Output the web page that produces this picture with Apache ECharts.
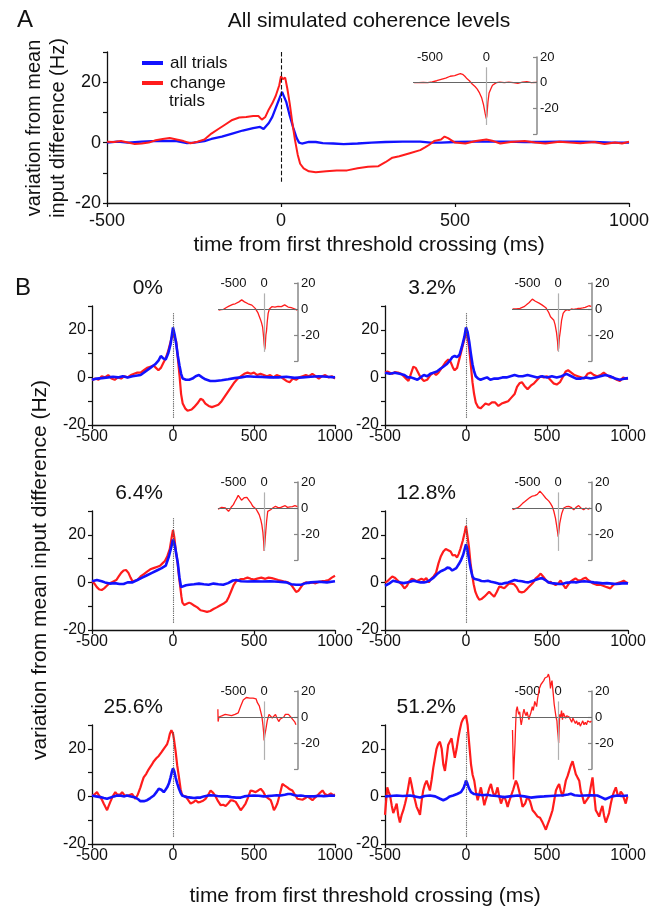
<!DOCTYPE html>
<html><head><meta charset="utf-8">
<script src="https://cdn.jsdelivr.net/npm/echarts@6/dist/echarts.min.js"></script>
<style>html,body{margin:0;padding:0;background:#fff}#c{width:657px;height:908px}</style>
</head><body><div id="c"></div>
<script>
const FONT = "'Liberation Sans', Arial, Helvetica, sans-serif";
const BLUE = '#1212ff', RED = '#ff1c1c';

// ---------- Panel A ----------
const A_all = [[-500,0],[-470,0.3],[-440,0],[-400,0.3],[-370,0.5],[-330,0.6],[-300,0.5],[-270,-0.2],[-250,0],[-220,0.5],[-200,1.2],[-170,2],[-140,3],[-110,4],[-80,4.8],[-60,5.2],[-50,4.5],[-45,4.6],[-35,6.5],[-25,8.5],[-15,11.5],[-5,14.5],[3,16.8],[8,16.5],[15,13.5],[25,9],[35,5],[45,1.5],[52,0],[60,-0.3],[80,0.2],[100,0.2],[120,-0.2],[150,-0.3],[180,-0.5],[220,-0.3],[260,0],[300,0.2],[350,0.3],[400,0.3],[430,0],[460,0],[500,0.2],[550,0.3],[600,0.3],[650,0.3],[700,0.2],[750,0.2],[800,0.3],[850,0.3],[900,0.2],[950,0],[1000,0]];
const A_change = [[-500,0.3],[-480,0.2],[-460,0.5],[-440,0],[-420,-0.5],[-400,-0.3],[-380,0],[-360,0.8],[-340,1.2],[-320,1.5],[-300,1],[-280,0.5],[-260,-0.2],[-240,0.3],[-220,1],[-200,3],[-180,4.5],[-160,6],[-140,7.5],[-120,8.3],[-100,8.5],[-80,8.8],[-65,8.8],[-55,7.6],[-45,8.5],[-35,11],[-25,13],[-15,15.5],[-5,19],[0,22],[5,21],[12,21.5],[18,18],[25,13],[32,7],[40,1],[48,-4],[55,-7],[65,-8.5],[80,-9.5],[100,-9.8],[130,-9.5],[160,-9.2],[190,-9.2],[220,-8.5],[250,-8],[280,-7.8],[300,-6.5],[320,-5],[340,-4.5],[370,-3.5],[400,-2.5],[415,-1.5],[425,-0.8],[440,0.5],[460,1],[470,2],[480,1.5],[500,0],[530,-0.3],[560,0.5],[590,1],[610,0.5],[630,-0.3],[660,0.2],[700,0.5],[730,0],[760,-0.3],[800,0.3],[830,0],[860,-0.2],[900,0.2],[930,-0.5],[960,0],[980,-0.3],[1000,0.3]];
const A_inset = [[-640,0],[-600,0],[-560,0.3],[-520,0],[-480,0.7],[-440,1.5],[-400,2.5],[-360,3.5],[-320,5],[-280,5.5],[-250,6.5],[-230,7],[-210,6.5],[-190,5],[-170,3],[-150,1.5],[-125,-1],[-100,-3],[-80,-5],[-60,-8],[-40,-12],[-25,-17],[-10,-24],[0,-28],[5,-26],[15,-15],[25,-8],[40,-5],[55,-2],[70,-2.5],[90,0],[120,0.5],[160,0],[200,0.5],[240,0],[280,-0.5],[320,0.5],[360,0.8],[400,0],[450,0.2]];

// ---------- Panel B : 0% ----------
const B0_all = [[-500,-1],[-470,-0.5],[-440,-0.3],[-400,0],[-370,0.3],[-340,0],[-310,0.5],[-280,0],[-250,0.5],[-220,0.8],[-200,1],[-170,2.5],[-140,4],[-110,5.5],[-90,7],[-75,9],[-60,8],[-45,7.5],[-30,10],[-15,14],[0,21],[10,18],[20,14],[30,9],[40,5],[50,1.5],[60,-0.5],[80,-1],[100,-1],[120,-0.5],[140,0.5],[160,1],[180,0],[200,-0.8],[230,-1.5],[260,-1.5],[300,-1.2],[340,-0.8],[380,-0.3],[420,0],[460,0.5],[500,0.3],[550,0.2],[600,0],[650,0],[700,0.3],[750,-0.2],[800,0],[850,0.3],[900,0.5],[950,0.3],[1000,0]];
const B0_change = [[-500,-1.2],[-480,-0.5],[-460,-1],[-440,0.5],[-420,0],[-400,1],[-380,-0.5],[-360,-1],[-340,0],[-320,-0.5],[-300,0.5],[-280,0],[-260,1],[-240,1.5],[-220,2],[-200,2],[-180,3],[-160,4],[-140,4.5],[-120,5],[-105,4],[-90,3],[-75,4],[-60,6],[-45,8],[-30,11],[-15,15],[0,18.5],[10,17],[20,15],[30,8],[40,1],[50,-7],[60,-11],[75,-13],[90,-14],[100,-14.5],[115,-13.5],[130,-12.5],[150,-11],[170,-9],[185,-9.5],[200,-11],[220,-12],[240,-12.5],[260,-12],[280,-11.5],[300,-10],[320,-8],[340,-6],[360,-4],[380,-2],[400,-0.5],[420,0.5],[440,1.5],[460,2],[480,1.5],[500,2],[520,1],[540,1.5],[560,1],[580,0.5],[600,1],[620,0],[640,1],[660,0.5],[680,-0.5],[700,-1.5],[720,-2],[740,-0.5],[760,-1],[780,0],[800,0.5],[820,1],[840,0.5],[860,1.5],[880,0.5],[900,-0.5],[920,0.5],[940,1],[960,0],[980,0.5],[1000,-0.5]];
const B0_inset = [[-740,-0.8],[-700,-0.5],[-660,-0.3],[-620,1],[-580,2],[-550,3],[-510,3.5],[-470,4],[-440,4.5],[-410,5.5],[-385,6.5],[-365,7],[-345,6],[-320,5.5],[-290,4.5],[-260,4],[-230,3.5],[-200,3],[-170,2],[-145,0.5],[-125,-0.8],[-100,-3],[-80,-5.5],[-60,-8],[-40,-11],[-25,-14],[-12,-20],[0,-27],[10,-31],[18,-28],[28,-20],[38,-17],[50,-10],[65,-3.4],[85,0],[105,1.5],[125,1.8],[150,2.5],[175,1.5],[200,3],[225,2],[250,1],[280,1.8],[305,2.5],[333,3.2],[360,2.5],[390,1.5],[414,1.8],[440,1],[468,0.5],[500,0],[538,-0.8]];

// ---------- 3.2% ----------
const B32_all = [[-500,2],[-470,1.5],[-440,2],[-410,1.5],[-380,1],[-360,0],[-340,0],[-320,-0.5],[-300,-1],[-280,0],[-260,1],[-240,0.5],[-220,1.5],[-200,2],[-180,2.5],[-160,3.5],[-140,4.5],[-120,5.5],[-100,7],[-85,8.5],[-70,9],[-55,8.5],[-40,9.5],[-25,13],[-10,17],[0,21],[10,19],[20,15],[30,10],[40,5.5],[50,2.5],[60,0.5],[75,-0.5],[90,-1],[110,-0.5],[130,0],[150,-1],[175,-0.5],[200,-0.5],[225,0],[250,0],[275,0.5],[300,1],[325,0.5],[350,0.5],[380,1],[410,0.5],[440,0],[470,0.5],[500,0],[530,0.5],[560,0],[590,0.5],[620,1.5],[650,0.5],[680,-0.5],[710,-0.5],[740,0],[770,-0.5],[800,0],[830,0.5],[860,1],[890,0.5],[920,-0.5],[950,-1],[980,-0.5],[1000,-0.3]];
const B32_change = [[-500,2],[-485,2.5],[-470,2],[-455,1.5],[-440,2.2],[-420,2],[-400,1.5],[-385,0.5],[-370,-0.5],[-355,-1.5],[-340,1.5],[-325,4.5],[-310,4],[-295,2],[-280,0],[-260,-1.5],[-240,-1],[-220,1],[-200,2],[-185,1],[-170,2],[-155,3.5],[-140,5],[-125,6.5],[-110,7.5],[-95,6.5],[-80,4],[-70,3],[-55,4],[-40,8],[-25,12],[-10,16],[0,19],[10,17],[20,12],[30,5],[40,-2],[50,-7],[60,-10.5],[75,-12.5],[90,-13],[105,-12],[120,-11],[140,-11.5],[160,-10.5],[180,-10.5],[200,-12],[220,-11],[240,-10.5],[260,-10],[280,-8.5],[300,-7],[315,-4],[330,-2.5],[345,-2],[360,-3.5],[380,-5],[400,-3.5],[420,-2.5],[440,-1],[460,0.5],[480,0],[500,0.5],[520,-1],[540,-2.5],[560,-3],[580,-2],[600,0.5],[615,2.5],[630,3],[650,2],[670,1],[690,0.5],[710,0],[730,-0.5],[750,1.5],[770,2],[790,1],[810,0.5],[830,1],[850,2],[870,1],[890,0],[910,0],[930,-1],[950,-1.5],[970,0],[985,-0.5],[1000,-0.5]];
const B32_inset = [[-740,0],[-710,-0.5],[-680,0],[-650,0],[-620,0.5],[-590,1],[-554,1.8],[-520,3],[-490,4],[-470,5],[-445,6.5],[-420,7.6],[-395,7],[-370,6],[-339,5.8],[-310,4.5],[-280,3.5],[-258,3],[-230,2],[-200,1],[-177,-0.8],[-150,-3],[-124,-6],[-100,-7],[-70,-8.7],[-50,-12],[-27,-18],[-10,-25],[0,-32],[8,-30],[20,-22],[38,-16],[55,-9],[81,-3.4],[110,-1.5],[145,-0.5],[180,-1],[215,0],[253,-0.3],[290,0],[325,0.5],[360,0.5],[400,0.8],[440,1.2],[468,1.8],[500,2.5],[522,3],[538,2]];

// ---------- 6.4% ----------
const B64_all = [[-500,0.5],[-470,1],[-440,0.5],[-420,0],[-390,-0.5],[-360,-0.3],[-330,-0.7],[-305,-0.7],[-280,0],[-250,0],[-220,1],[-190,2],[-160,3],[-130,4],[-100,5],[-70,6],[-45,7],[-25,11],[-10,15],[0,18],[10,16],[20,12],[30,8],[40,2],[50,-2],[60,-1.8],[80,-1.2],[100,-1],[130,-0.8],[160,-0.5],[190,-0.8],[220,-1],[250,-0.5],[280,-0.8],[310,-1],[340,-0.3],[370,0.8],[390,1],[420,0.5],[460,0.4],[500,0.5],[550,0.4],[600,0.5],[650,0.3],[700,0],[730,-0.8],[760,-1],[790,-1],[820,-0.3],[850,0],[900,0.3],[950,0],[1000,0.5]];
const B64_change = [[-500,0.5],[-485,-0.5],[-470,-2],[-455,-3],[-440,-3.2],[-425,-2.5],[-410,-1.5],[-395,-0.5],[-380,0],[-365,0.5],[-350,1],[-335,2.5],[-320,4],[-305,5],[-290,5.2],[-275,4],[-262,2],[-250,0.5],[-240,0],[-220,1],[-200,2.5],[-180,3.5],[-160,4.5],[-140,5.5],[-120,6],[-100,6.5],[-80,7],[-65,8],[-50,9],[-35,11],[-20,14],[-8,19],[0,22],[8,19],[18,13],[27,9],[36,3],[45,-2],[52,-6],[58,-8.5],[70,-9.5],[85,-9],[100,-8.5],[115,-9],[130,-9.7],[150,-10.5],[170,-11.7],[190,-12],[210,-12.4],[230,-12],[250,-11.2],[270,-10.5],[290,-9.7],[310,-9],[330,-8],[345,-6],[360,-3.5],[375,-1],[390,0.5],[420,1.4],[440,1.5],[460,2],[480,1.5],[500,1.2],[520,1.6],[545,2],[570,1.5],[590,2],[610,1.8],[630,1.4],[650,1],[670,0.7],[690,0.3],[710,0],[730,-1],[745,-2.5],[760,-4],[775,-3.5],[790,-2],[805,-0.5],[820,0],[840,-0.3],[860,0],[880,-0.4],[900,0.2],[920,0.5],[940,0.7],[960,1],[980,2],[1000,2.8]];
const B64_inset = [[-750,-0.8],[-720,-0.5],[-690,0.5],[-658,1.3],[-630,0],[-605,-1.5],[-579,-2.6],[-555,-1],[-530,1],[-500,2.6],[-475,5],[-450,7],[-421,9.7],[-395,8],[-368,6],[-345,7],[-320,8],[-300,8.7],[-280,8.2],[-260,7],[-237,5.3],[-210,3.5],[-184,1.3],[-160,0.5],[-132,-0.8],[-105,-3],[-79,-5.3],[-55,-9],[-37,-13],[-20,-19],[-8,-26],[0,-33],[10,-28],[26,-18],[40,-10],[58,-2.6],[80,-1.5],[105,-1.3],[140,0],[184,1.3],[220,0.5],[263,0.3],[300,1],[342,1.8],[380,0.5],[421,0.8],[460,1],[500,1.8],[540,1]];

// ---------- 12.8% ----------
const B128_all = [[-500,-1.4],[-475,-0.5],[-450,0.7],[-425,0.3],[-405,0],[-385,-0.3],[-365,0],[-345,0.3],[-325,0.7],[-300,0.3],[-280,0],[-260,0],[-240,0.3],[-220,1],[-200,2],[-180,3.4],[-160,4.5],[-145,5],[-130,5.5],[-115,6.2],[-100,6],[-85,5],[-73,4.8],[-60,6],[-45,7.6],[-30,9.5],[-18,11.5],[-8,14],[0,16],[8,14],[18,10],[28,6],[40,2.5],[50,1.5],[62,1],[80,1],[95,0.6],[115,0.5],[135,0.7],[155,0.3],[177,0],[200,-0.5],[220,-0.7],[240,-0.3],[260,0],[280,0.5],[300,1],[320,0.7],[345,0.5],[365,0.2],[385,0],[405,0.5],[427,1],[450,1.5],[469,1.8],[490,1],[510,0],[530,-0.3],[555,-0.5],[575,-0.7],[594,-0.7],[615,-0.2],[640,0],[660,0.2],[680,0],[700,0.3],[730,0.5],[760,0.3],[790,0],[820,-0.2],[844,-0.4],[870,-0.3],[900,-0.5],[927,-0.7],[950,-0.5],[975,-0.3],[1000,-0.4]];
const B128_change = [[-500,0],[-485,0.5],[-470,1.5],[-455,2.5],[-440,2],[-425,1],[-410,0],[-395,-1],[-380,-2.5],[-365,-1.5],[-350,0.5],[-335,1.5],[-320,1.2],[-305,0.5],[-290,1],[-275,1.5],[-260,1],[-245,1.8],[-230,0],[-215,1.5],[-200,2.5],[-185,4],[-170,8],[-155,11],[-140,13],[-125,14],[-110,13.5],[-95,13],[-82,11.3],[-68,11.5],[-55,10.5],[-45,12],[-35,14],[-20,17.5],[-8,21],[0,23.7],[8,20],[18,15],[28,8],[38,3],[48,-1],[58,-4],[70,-6],[82,-7.3],[95,-7],[113,-6],[128,-5],[143,-3.9],[158,-5],[174,-6],[190,-4],[205,-1.8],[220,-2],[236,-2.5],[250,-1.5],[266,-0.4],[282,-0.5],[297,-0.8],[313,-2],[328,-3.9],[344,-4.2],[359,-3.9],[380,-2.5],[400,-1.1],[415,0],[430,1.7],[445,2.5],[461,3.7],[476,2.5],[492,1],[507,0],[522,0.2],[538,-0.5],[553,-1.1],[568,-0.5],[584,0.8],[600,-1],[615,-2.5],[630,-1],[645,0.3],[660,1],[676,1.7],[690,1],[707,0.8],[722,1.5],[738,2],[753,1],[768,0.3],[785,-0.5],[809,-1.1],[830,-1],[850,-1.5],[870,-2],[891,-2.5],[910,-1],[932,-0.4],[950,0],[973,0.7],[990,0],[1000,-0.3]];
const B128_inset = [[-740,-1.3],[-700,-0.5],[-661,0],[-620,1.5],[-581,3.4],[-540,5],[-500,6.6],[-460,8],[-419,9.2],[-380,9.5],[-339,10.5],[-315,11.5],[-296,13],[-275,12],[-250,10.5],[-231,9.2],[-200,7.5],[-175,6.5],[-151,5.3],[-125,3.5],[-97,1.3],[-70,-2.5],[-43,-8],[-20,-15],[-5,-20],[0,-22],[10,-19],[25,-12],[38,-9],[60,-4],[91,0],[130,1],[172,1.3],[210,0.5],[253,-1.3],[290,0.5],[333,1.8],[370,0],[414,-1.3],[450,0],[495,-0.8],[520,0]];

// ---------- 25.6% ----------
const B256_all = [[-500,0.4],[-475,0],[-448,-0.3],[-427,-0.7],[-407,-1],[-385,-0.5],[-365,0],[-345,0.4],[-320,0.3],[-300,0],[-284,0.4],[-260,0],[-232,-0.5],[-215,-1.2],[-201,-2],[-180,-2],[-160,-1.6],[-140,-0.7],[-118,0.4],[-100,2],[-88,3.2],[-72,2.8],[-57,1.8],[-46,2.8],[-36,3.8],[-25,5.5],[-15,8],[-6,10.5],[0,11.8],[8,10.5],[16,8],[26,5.5],[37,3.2],[47,1.5],[57,0.4],[70,0],[88,-0.3],[110,-0.5],[130,-0.7],[150,-0.5],[170,-0.5],[190,0],[210,0.3],[230,0.5],[253,0.4],[275,0.2],[300,0],[335,0],[360,-0.3],[390,-0.5],[418,-0.5],[440,0],[470,0.3],[500,0.4],[530,0.3],[560,0],[582,0.1],[610,0.3],[640,0.5],[665,0.4],[690,0.7],[710,1],[727,1],[750,0.5],[770,0.3],[789,0.4],[810,0.2],[840,0],[871,0],[900,0.3],[930,0.1],[950,0.2],[974,0.4],[1000,0.3]];
const B256_change = [[-500,0.4],[-485,0.8],[-469,1.8],[-458,0.5],[-448,0],[-438,-1.5],[-428,-3],[-417,-4.5],[-407,-5.8],[-397,-4],[-387,-2.3],[-372,0],[-356,1.8],[-345,0.8],[-335,0],[-325,0.8],[-314,1.8],[-300,0.5],[-284,0.2],[-268,0.6],[-253,1],[-242,0],[-232,-1],[-217,0.8],[-201,3.8],[-191,6],[-181,8],[-165,9.5],[-150,11.4],[-134,13],[-118,14.8],[-103,16],[-88,17],[-72,18.5],[-57,20],[-46,21],[-36,22],[-27,24],[-19,26.4],[-10,27.8],[-4,27.5],[0,26.4],[6,24],[16,19],[26,13],[37,8],[47,3],[57,0.4],[67,0],[78,0],[93,-1.5],[109,-3],[125,-2.5],[140,-1.6],[155,-2.5],[170,-2.3],[186,-1.8],[201,-1],[216,0.5],[232,2.5],[248,1.5],[263,0],[278,-2],[294,-3.7],[310,-3.5],[325,-4],[340,-3],[356,-1.6],[372,-1.8],[387,-2.3],[402,-4],[418,-5.8],[433,-4.5],[448,-3],[463,-0.5],[479,2.5],[495,2.2],[510,1.8],[526,2.5],[541,3.2],[557,2],[572,0],[588,-0.8],[603,-1.6],[613,-3.5],[623,-5.8],[634,-4.5],[644,-3],[660,1],[675,5.2],[690,4.5],[706,3.8],[721,3],[737,2.5],[752,0.8],[768,-1],[784,-1.2],[799,-1.4],[815,-0.8],[831,0],[846,-0.8],[861,-1.6],[877,-0.5],[892,0.4],[907,1.5],[923,2.5],[938,1],[954,0.4],[964,1],[974,1.2],[990,0.5],[1000,0.8]];
const B256_inset = [[-752,6],[-748,-3.5],[-735,0],[-710,0.5],[-680,1],[-655,2],[-632,2],[-600,0.5],[-570,1.5],[-553,0],[-530,1],[-500,1.5],[-474,2],[-450,2.5],[-421,3.2],[-400,6],[-380,8.5],[-368,10],[-340,13],[-320,14.5],[-289,15],[-260,15.5],[-235,14.5],[-211,15],[-180,14.5],[-150,14],[-132,14],[-110,11],[-79,8.5],[-55,4],[-37,0.5],[-20,-6],[-8,-12],[0,-18],[10,-14],[26,-10],[50,-3],[79,2],[105,0.5],[132,-0.8],[160,0],[184,2],[210,-1],[237,-3.5],[263,-1.5],[289,-1],[320,0],[345,2],[368,3.2],[395,2],[421,0.5],[450,-1],[474,-2],[500,-4],[516,-6]];

// ---------- 51.2% ----------
const B512_all = [[-500,0],[-465,0.2],[-428,0.4],[-390,0.2],[-346,0.4],[-315,0],[-284,-0.5],[-255,0.2],[-223,0.4],[-190,0],[-160,-1],[-140,-1.6],[-120,-1],[-100,0],[-79,0.4],[-55,1],[-31,1.8],[-15,3.5],[-5,5.5],[0,6.6],[8,5.5],[18,3.5],[31,1.8],[50,1],[72,0.8],[100,0.5],[130,0.7],[154,0.4],[190,0.2],[236,-0.3],[270,0],[318,0.4],[360,0],[400,-0.5],[440,-0.2],[482,0],[520,0.2],[565,0.4],[600,0.5],[630,0.8],[647,1.1],[670,0.5],[700,0.3],[730,0.4],[770,0.5],[811,0.4],[840,-0.5],[860,-1.2],[872,-1],[900,0],[934,0.4],[960,0.2],[1000,0.4]];
const B512_change = [[-500,-7.8],[-486,3.8],[-478,2],[-469,0.5],[-458,-4],[-449,-7],[-438,-5],[-428,-3],[-418,-8],[-408,-11],[-398,-8],[-387,-5.8],[-376,-3],[-366,0],[-356,4],[-346,8],[-336,5],[-325,1],[-315,-1.5],[-305,-4.4],[-294,-6],[-284,-7.8],[-274,-2],[-264,2.5],[-254,5],[-243,6.6],[-233,4.5],[-223,2.5],[-212,7],[-202,12],[-192,16],[-182,20],[-172,22],[-161,23],[-150,20],[-140,13.4],[-130,10.7],[-120,16],[-110,21.6],[-100,23],[-89,24.4],[-79,20],[-69,16.2],[-58,20],[-48,24.4],[-38,28],[-28,31],[-18,32.5],[-8,33],[0,34],[10,30],[20,22],[31,13.4],[41,9],[51,6.6],[61,2],[72,-1.6],[82,1],[92,3.8],[103,0],[113,-3.7],[124,-1],[134,1],[144,3.5],[154,5.2],[165,2],[175,0],[185,1.5],[195,3.8],[205,0],[216,-3],[226,-1],[236,0],[247,-2],[257,-4.4],[267,-2],[277,0],[292,3],[308,6.6],[318,5],[329,2],[339,-1],[349,-4.4],[365,-3],[380,0],[395,-2],[411,-5.8],[426,-7],[442,-8.5],[457,-9],[473,-11],[483,-12.5],[493,-14],[503,-12],[514,-10],[524,-8],[534,-5.8],[545,-1.5],[555,2.5],[565,4],[575,5.2],[586,2],[596,0],[606,3],[616,6.6],[627,8.5],[637,10.7],[647,13],[658,14.8],[668,12],[678,9.3],[688,8],[699,6.6],[709,2],[719,0],[730,-3],[740,-3],[750,-1],[760,0],[770,4],[781,8],[791,1],[801,-5.8],[811,-7],[822,-8.5],[832,-6],[842,-4],[852,-8],[863,-11],[873,-9],[883,-7],[894,-3],[904,0],[914,2],[925,3.8],[935,1],[945,0],[955,2],[966,1],[976,-1],[986,-3],[996,0],[1000,0]];
const B512_inset = [[-742,-10],[-733,-30],[-726,-48],[-715,-35],[-700,-20],[-690,-5],[-680,5],[-665,8],[-650,4],[-640,2],[-625,4],[-610,-3],[-600,-6],[-585,-2],[-570,3],[-555,6],[-540,3],[-520,1],[-505,4],[-490,5],[-475,-2],[-460,1],[-445,3],[-430,6],[-420,8],[-405,5],[-390,9],[-380,12],[-365,10],[-350,8],[-335,14],[-320,18],[-305,22],[-290,21],[-280,25],[-265,24],[-250,26],[-235,28],[-215,30],[-195,29],[-175,31],[-158,33],[-140,30],[-125,22],[-112,26],[-100,28],[-88,22],[-80,18],[-65,10],[-50,5],[-35,0],[-20,-3],[-10,-10],[0,-15],[8,-20],[15,-10],[25,2],[40,0],[55,5],[70,-2],[85,3],[100,2],[120,-1],[140,1],[160,2],[180,0],[200,-1],[220,-4],[240,-1],[260,-2],[280,-5],[300,-3],[320,-6],[340,-4],[360,-7],[380,-5],[400,-3],[420,-6],[440,-4],[460,-6],[480,-3],[500,-2],[520,-4],[540,-3]];

const panelTitles = ['0%', '3.2%', '6.4%', '12.8%', '25.6%', '51.2%'];
const mainYTicksLabelled = [-20, 0, 20];
const insetXLabelled = [-500, 0];
const insetYLabelled = [-20, 0, 20];

const panels = [
  {title: panelTitles[0], all: B0_all, change: B0_change, inset: B0_inset},
  {title: panelTitles[1], all: B32_all, change: B32_change, inset: B32_inset},
  {title: panelTitles[2], all: B64_all, change: B64_change, inset: B64_inset},
  {title: panelTitles[3], all: B128_all, change: B128_change, inset: B128_inset},
  {title: panelTitles[4], all: B256_all, change: B256_change, inset: B256_inset},
  {title: panelTitles[5], all: B512_all, change: B512_change, inset: B512_inset}
];

// ---------- layout ----------
const grid = [], xAxis = [], yAxis = [], series = [], graphic = [];

function addMain(box, tickFont, xMargin) {
  const gi = grid.length;
  grid.push(Object.assign({containLabel: false}, box));
  xAxis.push({gridIndex: gi, type: 'value', min: -500, max: 1000, interval: 500,
    axisLine: {show: true, onZero: false, lineStyle: {color: '#111', width: 1.3}},
    axisTick: {show: true, length: 4, lineStyle: {color: '#111', width: 1.2}},
    axisLabel: {fontSize: tickFont, color: '#111', margin: xMargin, fontFamily: FONT, formatter: v => String(v)},
    splitLine: {show: false}});
  yAxis.push({gridIndex: gi, type: 'value', min: -20, max: 30, interval: 10,
    axisLine: {show: true, onZero: false, lineStyle: {color: '#111', width: 1.3}},
    axisTick: {show: true, length: 4, lineStyle: {color: '#111', width: 1.2}},
    axisLabel: {fontSize: tickFont, color: '#111', margin: 6, fontFamily: FONT,
      formatter: v => mainYTicksLabelled.includes(v) ? String(v) : ''},
    splitLine: {show: false}});
  return gi;
}
function addInset(box, xmin, xmax, step) {
  const gi = grid.length;
  grid.push(Object.assign({containLabel: false}, box));
  xAxis.push({gridIndex: gi, type: 'value', position: 'top', min: xmin, max: xmax, interval: step,
    axisLine: {show: false, onZero: false}, axisTick: {show: false},
    axisLabel: {fontSize: 13, color: '#111', margin: -7, fontFamily: FONT,
      formatter: v => insetXLabelled.includes(v) ? String(v) : ''},
    splitLine: {show: false}});
  yAxis.push({gridIndex: gi, type: 'value', position: 'right', min: -40, max: 20, interval: 20,
    axisLine: {show: true, onZero: false, lineStyle: {color: '#888', width: 1.5}},
    axisTick: {show: true, inside: true, length: 4, lineStyle: {color: '#888', width: 1.2}},
    axisLabel: {fontSize: 13, color: '#111', margin: 3, fontFamily: FONT,
      formatter: v => insetYLabelled.includes(v) ? String(v) : ''},
    splitLine: {show: false}});
  return gi;
}
function lineSeries(name, gi, data, color, width, extra) {
  return Object.assign({type: 'line', name, xAxisIndex: gi, yAxisIndex: gi, data,
    showSymbol: false, symbol: 'none', clip: false, animation: false,
    lineStyle: {color, width}, itemStyle: {color}}, extra || {});
}
function vMark(top, bottom, type, color) {
  return {silent: true, symbol: 'none', animation: false, label: {show: false},
    lineStyle: {color, type, width: 1.1},
    data: [[{coord: [0, top]}, {coord: [0, bottom]}]]};
}
function insetSeries(gi, data) {
  return lineSeries('change − all', gi, data, RED, 1.3, {
    z: 3,
    markLine: {silent: true, symbol: 'none', animation: false, label: {show: false},
      data: [
        {yAxis: 0, lineStyle: {color: '#666', width: 1, type: 'solid'}},
        [{coord: [0, 12], lineStyle: {color: '#b0b0b0', width: 1.2, type: 'solid'}}, {coord: [0, -33]}]
      ]}
  });
}
function txt(text, x, y, size, align, rot) {
  return {type: 'text', x, y, rotation: rot || 0, silent: true,
    style: {text, font: size + 'px ' + FONT, fill: '#111',
      textAlign: align || 'center', textVerticalAlign: 'middle', align: align || 'center', verticalAlign: 'middle'}};
}

// Panel A
const gA = addMain({left: 107, top: 52, width: 522, height: 151}, 18, 9);
series.push(lineSeries('all trials', gA, A_all, BLUE, 2.3, {z: 2, markLine: vMark(30, -13.5, 'dashed', '#111')}));
series.push(lineSeries('change trials', gA, A_change, RED, 2, {z: 3}));
const gAi = addInset({left: 413, top: 57, width: 124, height: 77}, -650, 450, 50);
series.push(insetSeries(gAi, A_inset));

// Panel B
const colLeft = [92, 385], rowTop = [306, 511, 725], insLeft = [218, 512], insTop = [283, 482, 691];
panels.forEach((p, i) => {
  const r = Math.floor(i / 2), c = i % 2;
  const g = addMain({left: colLeft[c], top: rowTop[r], width: 243, height: 119}, 16, 4);
  series.push(lineSeries('change trials', g, p.change, RED, 2.2, {z: 2, markLine: vMark(27, -17, 'dotted', '#555')}));
  series.push(lineSeries('all trials', g, p.all, BLUE, 2.6, {z: 3}));
  const gi = addInset({left: insLeft[c], top: insTop[r], width: 80, height: 78}, -750, 550, 250);
  series.push(insetSeries(gi, p.inset));
  graphic.push(txt(p.title, colLeft[c] + 71, rowTop[r] - 18, 21, 'right'));
});

graphic.push(txt('A', 25, 20, 24, 'center'));
graphic.push(txt('All simulated coherence levels', 369, 21, 21, 'center'));
graphic.push(txt('variation from mean', 34, 128, 20, 'center', Math.PI / 2));
graphic.push(txt('input difference (Hz)', 58, 128, 20, 'center', Math.PI / 2));
graphic.push(txt('time from first threshold crossing (ms)', 369, 245, 21, 'center'));
graphic.push(txt('trials', 169, 101, 17, 'left'));
graphic.push(txt('B', 23, 288, 24, 'center'));
graphic.push(txt('variation from mean input difference (Hz)', 40, 570, 21, 'center', Math.PI / 2));
graphic.push(txt('time from first threshold crossing (ms)', 365, 896, 21, 'center'));

const chart = echarts.init(document.getElementById('c'));
chart.setOption({
  animation: false,
  backgroundColor: '#fff',
  textStyle: {fontFamily: FONT},
  legend: {left: 137, top: 48, orient: 'vertical', icon: 'rect', itemWidth: 21, itemHeight: 4, itemGap: 0,
    data: ['all trials', 'change trials'],
    formatter: n => n === 'change trials' ? 'change' : n,
    textStyle: {fontSize: 17, color: '#111', fontFamily: FONT, lineHeight: 20, padding: [0, 0, 0, 2]}},
  grid, xAxis, yAxis, series, graphic
});
</script></body></html>
